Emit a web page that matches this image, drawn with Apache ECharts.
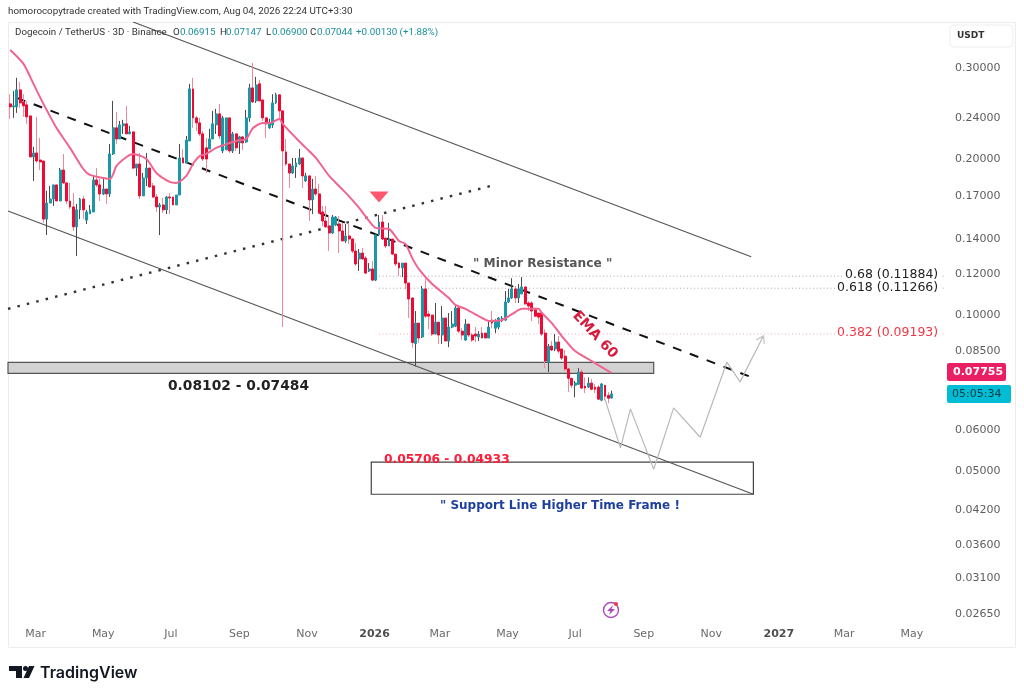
<!DOCTYPE html>
<html><head><meta charset="utf-8">
<style>html,body{margin:0;padding:0;background:#fff}#c{width:1024px;height:697px}</style>
<script src="https://cdn.jsdelivr.net/npm/echarts@6/dist/echarts.min.js"></script>
</head><body><div id="c"></div>
<script>
const firstCandle = '2025-02-06';
const opens = [
.2556,.2522,.2522,.2720,.2578,.2545,.2423,.2019,.2055,.1992,
.1983,.1532,.1645,.1675,.1783,.1660,.1905,.1799,.1660,.1617,
.1480,.1596,.1675,.1525,.1567,.1581,.1823,.1783,.1713,.1751,
.1713,.2046,.2298,.2187,.2318,.2339,.2237,.2257,.1922,.1957,
.1698,.1839,.1922,.1775,.1690,.1617,.1631,.1596,.1690,.1690,
.1631,.1705,.2010,.1966,.2168,.2732,.2402,.2349,.2237,.2102,
.2092,.2187,.2328,.2445,.2074,.2083,.2402,.2074,.2237,.2149,
.2207,.2158,.2402,.2744,.2590,.2794,.2601,.2402,.2298,.2328,
.2567,.2661,.2478,.2065,.1957,.1880,.1931,.1957,.2010,.1815,
.1856,.1668,.1751,.1713,.1581,.1519,.1486,.1440,.1493,.1499,
.1453,.1390,.1421,.1402,.1329,.1283,.1317,.1288,.1216,.1227,
.1168,.1428,.1512,.1408,.1359,.1402,.1311,.1260,.1233,.1260,
.1153,.1079,.0881,.0965,.0907,.1123,.1004,.1000,.0919,.0969,
.0915,.0987,.0891,.0948,.0952,.1032,.0931,.0895,.0961,.0915,
.0919,.0907,.0923,.0923,.0903,.0978,.0943,.0948,.0974,.0978,
.1060,.1079,.1123,.1079,.1098,.1133,.1055,.1055,.1023,.1009,
.1009,.0923,.0811,.0871,.0860,.0887,.0860,.0833,.0787,.0755,
.0732,.0735,.0776,.0729,.0726,.0739,.0726,.0726,.0685,.0732,
.0700,.06915];
const highs = [
.2668,.2708,.2870,.2818,.2668,.2590,.2423,.2111,.2413,.2197,
.1983,.1736,.1775,.1783,.1783,.1922,.2046,.1799,.1799,.1721,
.1638,.1683,.1698,.1596,.1631,.1856,.1922,.1831,.1839,.1751,
.2139,.2590,.2467,.2370,.2381,.2534,.2318,.2257,.1957,.2055,
.1880,.2055,.1922,.1799,.1713,.1645,.1683,.1698,.1721,.1690,
.1705,.2139,.2092,.2217,.2794,.2870,.2423,.2402,.2267,.2197,
.2288,.2478,.2500,.2556,.2423,.2402,.2402,.2257,.2237,.2217,
.2217,.2489,.2794,.3067,.2882,.2844,.2601,.2402,.2391,.2668,
.2684,.2668,.2478,.2187,.1957,.2010,.2010,.2092,.2010,.1880,
.1856,.1831,.1856,.1791,.1624,.1624,.1560,.1560,.1553,.1553,
.1506,.1499,.1499,.1408,.1378,.1341,.1347,.1300,.1260,.1272,
.1434,.1560,.1560,.1408,.1506,.1402,.1311,.1266,.1260,.1260,
.1153,.1079,.1018,.0965,.1138,.1173,.1018,.1000,.1055,.0969,
.1041,.0987,.1009,.1018,.1041,.1046,.0943,.0982,.0961,.0923,
.0948,.0931,.0948,.0923,.0978,.1018,.0982,.0991,.0995,.1113,
.1123,.1178,.1138,.1148,.1184,.1133,.1064,.1064,.1028,.1009,
.1009,.0939,.0879,.0891,.0919,.0911,.0860,.0856,.0790,.0755,
.0746,.0790,.0787,.0758,.0758,.0753,.0736,.0732,.0739,.0732,
.0710,.07147];
const lows = [
.2391,.2402,.2456,.2511,.2413,.2339,.2019,.1815,.1966,.1905,
.1506,.1427,.1645,.1624,.1660,.1660,.1791,.1638,.1603,.1453,
.1300,.1532,.1532,.1499,.1567,.1581,.1767,.1660,.1705,.1638,
.1690,.2037,.2139,.2187,.2237,.2237,.2237,.1914,.1856,.1675,
.1698,.1775,.1767,.1683,.1581,.1427,.1574,.1567,.1567,.1631,
.1631,.1705,.1966,.1966,.2168,.2298,.2267,.2217,.1983,.1880,
.2092,.2187,.2237,.2187,.2055,.2083,.2055,.2055,.2074,.2046,
.2083,.2149,.2360,.2567,.2567,.2590,.2370,.2197,.2288,.2298,
.2556,.2391,.0948,.1940,.1759,.1872,.1839,.1949,.1759,.1807,
.1519,.1567,.1698,.1567,.1486,.1473,.1329,.1434,.1486,.1317,
.1390,.1378,.1371,.1317,.1244,.1216,.1278,.1200,.1211,.1163,
.1163,.1421,.1396,.1347,.1359,.1306,.1244,.1189,.1184,.1123,
.0987,.0865,.0797,.0883,.0903,.0987,.0939,.0911,.0919,.0879,
.0879,.0891,.0867,.0943,.0948,.0923,.0895,.0891,.0907,.0887,
.0887,.0891,.0903,.0903,.0903,.0943,.0923,.0939,.0969,.0974,
.1055,.1074,.1055,.1055,.1098,.1046,.1018,.0974,.0995,.0961,
.0911,.0790,.0776,.0852,.0852,.0844,.0819,.0780,.0710,.0723,
.0694,.0735,.0719,.0707,.0723,.0716,.0707,.0685,.0682,.0685,
.0676,.06900];
const closes = [
.2522,.2534,.2720,.2567,.2534,.2413,.2019,.2055,.1983,.1975,
.1532,.1645,.1675,.1783,.1660,.1905,.1799,.1660,.1617,.1480,
.1596,.1675,.1596,.1581,.1596,.1823,.1783,.1713,.1751,.1713,
.2046,.2298,.2187,.2328,.2339,.2237,.2257,.1922,.1957,.1698,
.1839,.1922,.1767,.1690,.1617,.1631,.1596,.1690,.1683,.1631,
.1705,.2010,.1966,.2177,.2732,.2402,.2349,.2237,.2001,.2001,
.2187,.2339,.2445,.2217,.2402,.2402,.2074,.2237,.2102,.2207,
.2149,.2402,.2744,.2578,.2781,.2590,.2402,.2339,.2339,.2567,
.2661,.2478,.2074,.1957,.1880,.1940,.1966,.2010,.1856,.1856,
.1668,.1751,.1713,.1574,.1519,.1480,.1440,.1546,.1546,.1453,
.1390,.1421,.1402,.1329,.1255,.1317,.1283,.1205,.1227,.1168,
.1428,.1512,.1402,.1359,.1402,.1311,.1255,.1233,.1260,.1153,
.1074,.0885,.0965,.0903,.1123,.0995,.0995,.0919,.0969,.0915,
.0987,.0891,.0948,.0961,.1032,.0931,.0915,.0961,.0915,.0895,
.0911,.0919,.0903,.0903,.0948,.0965,.0974,.0987,.0987,.1060,
.1079,.1123,.1079,.1123,.1133,.1051,.1041,.1018,.0995,.0991,
.0919,.0815,.0871,.0856,.0887,.0852,.0826,.0787,.0755,.0732,
.0739,.0776,.0723,.0723,.0739,.0719,.0719,.0688,.0736,.0697,
.0691,.07044];
const emaIndex = [0,4,7,10,14,18,22,24,30,32,35,37,41,44,48,50,53,55,57,59,62,68,71,73,76,78,81,82,86,89,92,96,101,105,108,110,114,117,119,121,123,127,132,134,137,142,144,148,151,154,156,159,160,163,166,170,175,181];
const emaValues = [.3248,.3054,.2794,.2556,.2293,.2102,.1914,.1864,.1831,.1940,.2019,.2046,.2001,.1880,.1807,.1799,.1856,.1957,.2028,.2046,.2102,.2168,.2187,.2293,.2349,.2349,.2391,.2339,.2197,.2102,.2010,.1856,.1721,.1610,.1519,.1473,.1466,.1390,.1371,.1288,.1227,.1148,.1079,.1046,.1028,.0987,.0974,.0978,.1004,.1028,.1028,.1028,.1009,.0965,.0911,.0852,.0815,.0773];
const upperChannel = [['2025-05-28',.3678],['2026-12-07',.1296]];
const lowerChannel = [['2025-02-04',.1588],['2026-12-09',.0451]];
const dashedTrend = [['2025-02-12',.2625],['2026-12-07',.0759]];
const dottedTrend = [['2025-02-04',.1028],['2026-04-16',.1775]];
const fib68 = [['2026-01-05',.11884],['2027-07-10',.11884]];
const fib618 = [['2026-01-05',.11266],['2027-07-10',.11266]];
const fib382 = [['2026-01-05',.09193],['2027-07-10',.09193]];
const forecastPath = [['2026-07-28',.0688],['2026-08-11',.0554],['2026-08-20',.0659],['2026-09-10',.0504],['2026-09-28',.0662],['2026-10-22',.0581],['2026-11-15',.0811],['2026-11-27',.0743],['2026-12-18',.0911]];
const signalMark = ['2026-01-05',.1690];
const resistanceZone = [['2025-02-04',.08102],['2026-09-10',.0772]];
const supportZone = [['2025-12-29',.0520],['2026-12-09',.0451]];
const yTicks = [.30,.24,.20,.17,.14,.12,.10,.085,.06,.05,.042,.036,.031,.0265];
const xTickDates = ['2025-03-01','2025-05-01','2025-07-01','2025-09-01','2025-11-01','2026-01-01','2026-03-01','2026-05-01','2026-07-01','2026-09-01','2026-11-01','2027-01-01','2027-03-01','2027-05-01'];
const xTickLabels = ['Mar','May','Jul','Sep','Nov','2026','Mar','May','Jul','Sep','Nov','2027','Mar','May'];

const t = s => Date.parse(s + 'T00:00:00Z');
const DAY = 86400000;
const dates = opens.map((_, i) => t(firstCandle) + i * 3 * DAY);
const tp = a => a.map(p => [t(p[0]), p[1]]);
const FONT = '"DejaVu Sans"';
const xMin = t('2025-02-04'), xMax = t('2027-05-31'), yMin = .02556, yMax = .3678;
const lineS = (name, data, color, width, dash, extra) => Object.assign({
  name, type: 'line', data: tp(data), showSymbol: false, symbol: 'none', silent: true, animation: false,
  lineStyle: { color, width, type: dash || 'solid' }, z: 3
}, extra || {});
const txt = (text, x, y, font, fill, extra) => ({ type: 'text', x, y, z: 50, silent: true,
  style: Object.assign({ text, font, fill, textVerticalAlign: 'middle' }, extra || {}) });
const HF = '9.8px Roboto';

const chart = echarts.init(document.getElementById('c'), null, { renderer: 'canvas', useUTC: true });
chart.setOption({
  useUTC: true, animation: false, backgroundColor: '#fff',
  grid: { left: 8, right: 79, top: 22, bottom: 75 },
  xAxis: { type: 'time', min: xMin, max: xMax, axisLine: { show: false }, axisTick: { show: false }, splitLine: { show: false }, axisLabel: { show: false } },
  yAxis: { type: 'log', position: 'right', min: yMin, max: yMax, logBase: 10, axisLine: { show: false }, axisTick: { show: false }, splitLine: { show: false }, minorTick: { show: false }, minorSplitLine: { show: false },
    axisLabel: { show: false } },
  series: [
    { name: 'wicks', type: 'candlestick', barWidth: 1, z: 4, silent: true, encode: { x: 0, y: [1, 2, 3, 4] },
      itemStyle: { color: '#4a4a4a', color0: '#ee8a9c', borderColor: '#4a4a4a', borderColor0: '#ee8a9c', borderWidth: 1 },
      data: dates.map((d, i) => [d, opens[i], closes[i], lows[i], highs[i]]) },
    { name: 'bodies', type: 'candlestick', barWidth: 2.4, z: 5, silent: true, encode: { x: 0, y: [1, 2, 3, 4] },
      itemStyle: { color: '#1a98a8', color0: '#ee0a33', borderColor: '#1a98a8', borderColor0: '#ee0a33', borderWidth: 1 },
      data: dates.map((d, i) => [d, opens[i], closes[i], Math.min(opens[i], closes[i]), Math.max(opens[i], closes[i])]) },
    { name: 'EMA 60', type: 'line', smooth: .25, showSymbol: false, symbol: 'none', silent: true, z: 6,
      lineStyle: { color: '#f0648f', width: 2 }, data: emaIndex.map((k, i) => [dates[k], emaValues[i]]) },
    lineS('upper', upperChannel, '#555', 1.2),
    lineS('lower', lowerChannel, '#555', 1.2),
    lineS('dashed', dashedTrend, '#111', 2, [9, 9]),
    lineS('dotted', dottedTrend, '#333', 2.4, [2.5, 7.2]),
    lineS('fib68', fib68, '#aaa', 1, [1, 2.5]),
    lineS('fib618', fib618, '#aaa', 1, [1, 2.5]),
    lineS('fib382', fib382, '#f7a8b4', 1, [1, 2.5]),
    lineS('forecast', forecastPath, '#b9b9b9', 1.2),
    { name: 'forecastHead', type: 'scatter', silent: true, z: 3, symbol: 'path://M0,10 L5,0 L10,10', symbolSize: [9, 7], symbolRotate: -27, symbolOffset: [-1.5, 3],
      itemStyle: { color: 'none', borderColor: '#b9b9b9', borderWidth: 1.2 }, data: [tp(forecastPath)[forecastPath.length - 1]] },
    { name: 'signal', type: 'scatter', silent: true, z: 8, symbol: 'triangle', symbolSize: [19, 11], symbolRotate: 180,
      itemStyle: { color: '#ff2d4a' }, data: [[t(signalMark[0]), signalMark[1]]] },
    { name: 'yTickLabels', type: 'scatter', silent: true, symbol: 'circle', symbolSize: 0.01, clip: false, z: 9,
      data: yTicks.map(v => [xMax, v]),
      label: { show: true, position: 'right', distance: 10, color: '#333', fontFamily: FONT, fontSize: 11, formatter: p => p.value[1].toFixed(5) } },
    { name: 'xTickLabels', type: 'scatter', silent: true, symbol: 'circle', symbolSize: 0.01, clip: false, z: 9,
      data: xTickDates.map((d, i) => ({ value: [t(d), yMin], label: /^\d/.test(xTickLabels[i]) ? { fontWeight: 'bold', color: '#222' } : {} })),
      label: { show: true, position: 'bottom', distance: 7, color: '#444', fontFamily: FONT, fontSize: 11, formatter: p => xTickLabels[p.dataIndex] } },
    { name: 'zones', type: 'line', data: [], silent: true, z: 2,
      markArea: { silent: true, data: [
        [{ xAxis: t(resistanceZone[0][0]), yAxis: resistanceZone[0][1], itemStyle: { color: '#d2d2d2', borderColor: '#555', borderWidth: 1.2 } },
         { xAxis: t(resistanceZone[1][0]), yAxis: resistanceZone[1][1] }],
        [{ xAxis: t(supportZone[0][0]), yAxis: supportZone[0][1], itemStyle: { color: 'rgba(0,0,0,0)', borderColor: '#444', borderWidth: 1.2 } },
         { xAxis: t(supportZone[1][0]), yAxis: supportZone[1][1] }]
      ] } }
  ],
  graphic: { elements: [
    { type: 'rect', z: 0, silent: true, shape: { x: 8.5, y: 22.5, width: 1007, height: 625 }, style: { fill: 'none', stroke: '#ececec', lineWidth: 1 } },
    txt('homorocopytrade created with TradingView.com, Aug 04, 2026 22:24 UTC+3:30', 8, 12, HF, '#333'),
    txt('Dogecoin / TetherUS · 3D · Binance', 15, 33, HF, '#333'),
    txt('O', 173, 33, HF, '#333'), txt('0.06915', 180, 33, HF, '#1a8f9a'),
    txt('H', 220, 33, HF, '#333'), txt('0.07147', 226, 33, HF, '#1a8f9a'),
    txt('L', 266, 33, HF, '#333'), txt('0.06900', 272, 33, HF, '#1a8f9a'),
    txt('C', 310, 33, HF, '#333'), txt('0.07044', 317, 33, HF, '#1a8f9a'),
    txt('+0.00130 (+1.88%)', 356, 33, HF, '#1a8f9a'),
    { type: 'rect', z: 50, silent: true, shape: { x: 950, y: 25, width: 63, height: 22, r: 4 }, style: { fill: '#fff', stroke: '#eee' } },
    txt('USDT', 957, 36, 'bold 9px "DejaVu Sans"', '#333'),
    txt('" Minor Resistance "', 473, 264, 'bold 12.2px "DejaVu Sans"', '#555'),
    txt('0.68 (0.11884)', 843, 275, '12.5px "DejaVu Sans"', '#222', { backgroundColor: '#fff', padding: [0, 2, 0, 2] }),
    txt('0.618 (0.11266)', 835, 288, '12.5px "DejaVu Sans"', '#222', { backgroundColor: '#fff', padding: [0, 2, 0, 2] }),
    txt('0.382 (0.09193)', 835, 333, '12.5px "DejaVu Sans"', '#f23645', { backgroundColor: '#fff', padding: [0, 2, 0, 2] }),
    txt('0.08102 - 0.07484', 168, 386, 'bold 13.8px "DejaVu Sans"', '#222'),
    txt('0.05706 - 0.04933', 384, 460, 'bold 12.3px "DejaVu Sans"', '#ff1a38'),
    txt('" Support Line Higher Time Frame !', 440, 506, 'bold 12px "DejaVu Sans"', '#1e3f9e'),
    { type: 'text', z: 50, silent: true, x: 595, y: 335, rotation: -0.82, style: { text: 'EMA 60', font: 'bold 14px "DejaVu Sans"', fill: '#d81b3c', textAlign: 'center', textVerticalAlign: 'middle' } },
    { type: 'rect', z: 50, silent: true, shape: { x: 947, y: 363, width: 59, height: 18, r: 2 }, style: { fill: '#e91e63' } },
    txt('0.07755', 953, 372, 'bold 11px "DejaVu Sans"', '#fff'),
    { type: 'rect', z: 50, silent: true, shape: { x: 947, y: 385, width: 64, height: 18, r: 2 }, style: { fill: '#00bcd4' } },
    txt('05:05:34', 952, 394, '11px "DejaVu Sans"', '#063c46'),
    { type: 'circle', z: 50, silent: true, shape: { cx: 611, cy: 610, r: 7.5 }, style: { fill: 'none', stroke: '#ab47bc', lineWidth: 1.4 } },
    { type: 'polygon', z: 50, silent: true, shape: { points: [[613, 605], [607, 611], [610.5, 611], [609, 615], [615, 609], [611.5, 609]] }, style: { fill: '#ab47bc' } },
    { type: 'circle', z: 51, silent: true, shape: { cx: 616, cy: 604, r: 2 }, style: { fill: '#f23645' } },
    { type: 'polygon', z: 50, silent: true, shape: { points: [[9, 666], [22, 666], [22, 678], [16, 678], [16, 671], [9, 671]] }, style: { fill: '#131722' } },
    { type: 'circle', z: 50, silent: true, shape: { cx: 25.5, cy: 668.5, r: 2.5 }, style: { fill: '#131722' } },
    { type: 'polygon', z: 50, silent: true, shape: { points: [[29, 666], [34.5, 666], [29, 678], [23.5, 678]] }, style: { fill: '#131722' } },
    txt('TradingView', 40, 673, '600 16px Inter', '#131722')
  ] }
});
</script></body></html>
